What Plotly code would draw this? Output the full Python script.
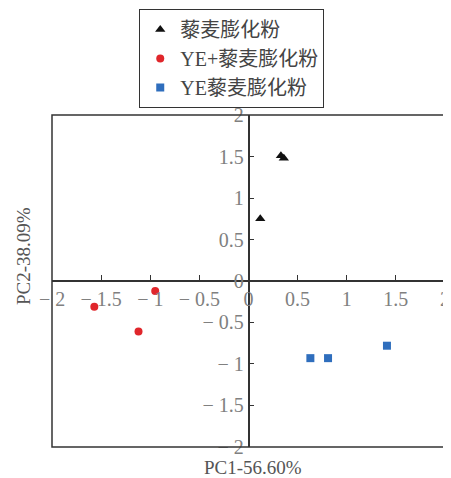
import plotly.graph_objects as go

series_names = ["藜麦膨化粉", "YE+藜麦膨化粉", "YE藜麦膨化粉"]
quinoa_x = [0.33, 0.36, 0.12]
quinoa_y = [1.51, 1.48, 0.75]
ye_plus_x = [-0.95, -1.57, -1.12]
ye_plus_y = [-0.12, -0.31, -0.61]
ye_x = [0.63, 0.81, 1.41]
ye_y = [-0.93, -0.93, -0.78]
tick_vals = [-2, -1.5, -1, -0.5, 0, 0.5, 1, 1.5, 2]
tick_text = ["− 2", "− 1.5", "− 1", "− 0.5", "0", "0.5", "1", "1.5", "2"]
x_title = "PC1-56.60%"
y_title = "PC2-38.09%"

fontfam = "Liberation Serif, Noto Sans CJK SC, serif"
ytop = 332 / 438  # plot domain top within paper

fig = go.Figure()
fig.add_trace(go.Scatter(x=quinoa_x, y=quinoa_y, mode="markers", name=series_names[0],
                         marker=dict(symbol="triangle-up", size=9, color="#111111")))
fig.add_trace(go.Scatter(x=ye_plus_x, y=ye_plus_y, mode="markers", name=series_names[1],
                         marker=dict(symbol="circle", size=8, color="#e0262b")))
fig.add_trace(go.Scatter(x=ye_x, y=ye_y, mode="markers", name=series_names[2],
                         marker=dict(symbol="square", size=8, color="#2f6ebd")))

axis_common = dict(
    range=[-2.001, 2.001], tickmode="array", tickvals=tick_vals, ticktext=tick_text,
    showgrid=False, zeroline=False, showline=True, linecolor="#333333", linewidth=1.5,
    ticks="inside", ticklen=5, tickcolor="#333333",
    tickfont=dict(family=fontfam, size=20, color="#808080"),
    anchor="free", automargin=False,
)
fig.update_layout(
    width=451, height=478,
    margin=dict(l=44, r=14, t=1, b=39),
    paper_bgcolor="white", plot_bgcolor="white",
    xaxis=dict(**axis_common, domain=[0, 1], position=ytop / 2),
    yaxis=dict(**axis_common, domain=[0, ytop], position=0.5),
    showlegend=True,
    legend=dict(x=0.222, y=1, xanchor="left", yanchor="top",
                bordercolor="#333333", borderwidth=1,
                font=dict(family=fontfam, size=20, color="#444444"),
                itemwidth=30, tracegroupgap=0),
    shapes=[dict(type="rect", xref="paper", yref="paper", x0=0, x1=1, y0=0, y1=ytop,
                 line=dict(color="#333333", width=1.5))],
    annotations=[
        dict(text=x_title, xref="paper", yref="paper", x=0.511, y=-0.0457, yanchor="middle",
             showarrow=False, font=dict(family=fontfam, size=19, color="#555555")),
        dict(text=y_title, xref="paper", yref="paper", x=-0.0738, y=0.436, xanchor="center",
             yanchor="middle", textangle=-90, showarrow=False,
             font=dict(family=fontfam, size=19, color="#555555")),
    ],
)
fig.write_html("out.html")
